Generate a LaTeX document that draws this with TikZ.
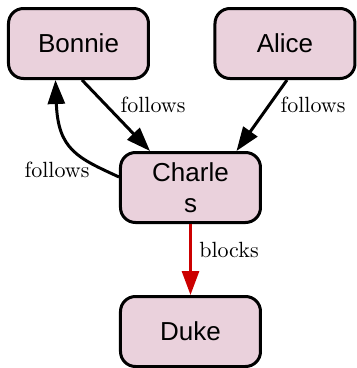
\documentclass[tikz,border=0pt]{standalone}
\usepackage{fontspec}
\newfontfamily\boxfont{Liberation Sans}
\usetikzlibrary{arrows.meta,calc}
\definecolor{boxpink}{RGB}{234,209,220}
\definecolor{blockred}{RGB}{204,0,0}
\tikzset{
  person/.style={draw=black, line width=3pt, fill=boxpink, rounded corners=15pt,
    minimum width=140pt, minimum height=70pt, inner sep=0pt, align=center,
    font=\boxfont\fontsize{26pt}{31pt}\selectfont},
  rel/.style={line width=3pt, -{Triangle[length=24pt,width=17pt]}},
  lbl/.style={font=\normalsize, scale=2.2, inner sep=0pt}
}
\begin{document}
\begin{tikzpicture}[x=1pt,y=-1pt]
  \useasboundingbox (0,0) rectangle (357,368);

  % people
  \node[person] (bonnie)  at (78.5,43.5)  {Bonnie};
  \node[person] (alice)   at (285,43.5)   {Alice};
  \node[person] (charles) at (190.5,187.5) {Charle\\s};
  \node[person] (duke)    at (190.5,331.5) {Duke};

  % relations
  \draw[rel] ($(bonnie.south)+(3.5,0)$) -- ($(charles.north)+(-40.5,0)$)
    node[lbl] (lfollowsa) at (153,105) {follows};
  \draw[rel] ($(alice.south)+(2,0)$) -- ($(charles.north)+(46,0)$)
    node[lbl] (lfollowsb) at (313,105) {follows};
  \draw[rel] ($(charles.west)+(0,-10.5)$) .. controls (78,158) and (58,150) ..
    ($(bonnie.south)+(-23,0)$)
    node[lbl] (lfollowsc) at (57,170) {follows};
  \draw[rel, draw=blockred, fill=blockred] (charles.south) -- (duke.north)
    node[lbl] (lblocks) at (229,250) {blocks};
\end{tikzpicture}
\end{document}
